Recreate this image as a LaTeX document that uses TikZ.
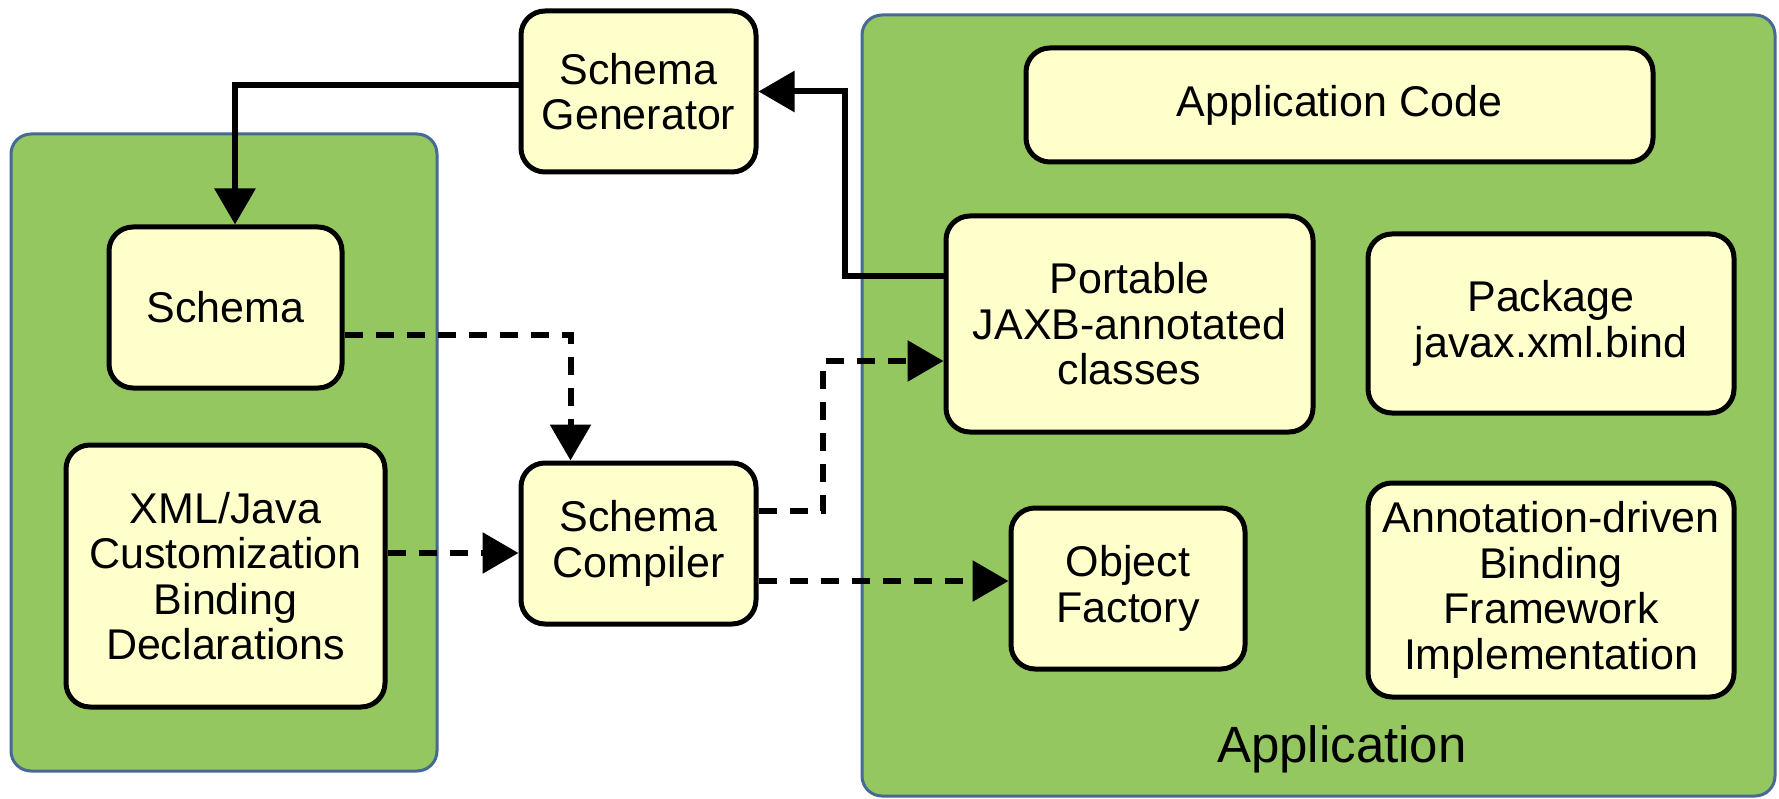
\documentclass[tikz,border=0pt]{standalone}
\usepackage{fontspec}
\setmainfont{Liberation Sans}
\usetikzlibrary{arrows.meta}
\definecolor{panelgreen}{RGB}{148,199,96}
\definecolor{panelborder}{RGB}{70,105,150}
\definecolor{boxyellow}{RGB}{255,255,204}
\tikzset{
  panel/.style={fill=panelgreen, draw=panelborder, line width=3pt, rounded corners=20pt},
  box/.style={fill=boxyellow, draw=black, line width=5pt, rounded corners=24pt, align=center,
    font=\fontsize{43pt}{45.5pt}\selectfont, inner sep=0pt},
  solidarrow/.style={line width=6pt, -{Triangle[length=36pt,width=40pt]}},
  dasharrow/.style={line width=6pt, dash pattern=on 18pt off 13pt, -{Triangle[length=36pt,width=40pt]}}
}
\begin{document}
\begin{tikzpicture}[x=1pt,y=-1pt]
\useasboundingbox (0,0) rectangle (1779,799);
% panels
\draw[panel] (11,134) rectangle (437,771);
\draw[panel] (862,15) rectangle (1775,796);
\node[font=\fontsize{51pt}{53pt}\selectfont] (applabel) at (1342,749) {Application};
% boxes
\node[box, minimum width=235pt, minimum height=161pt] (gen) at (638.5,91.5) {Schema\\Generator};
\node[box, minimum width=233pt, minimum height=161pt] (schema) at (225.5,307.5) {Schema};
\node[box, minimum width=319pt, minimum height=262pt] (xml) at (225.5,576) {XML/Java\\Customization\\Binding\\Declarations};
\node[box, minimum width=235pt, minimum height=161pt] (comp) at (638.5,543.5) {Schema\\Compiler};
\node[box, minimum width=627pt, minimum height=114pt] (appcode) at (1339.5,105) {Application Code};
\node[box, minimum width=367pt, minimum height=216pt] (port) at (1129.5,324) {Portable\\JAXB-annotated\\classes};
\node[box, minimum width=366pt, minimum height=179pt] (pkg) at (1551,323.5) {Package\\javax.xml.bind};
\node[box, minimum width=234pt, minimum height=161pt] (objf) at (1128,588.5) {Object\\Factory};
\node[box, minimum width=366pt, minimum height=214pt] (ann) at (1551,590) {Annotation-driven\\Binding\\Framework\\Implementation};
% connectors
\draw[solidarrow] ([yshift=6.5pt]gen.west) -| ([xshift=9.5pt]schema.north);
\draw[solidarrow] ([yshift=48pt]port.west) -| ([xshift=86pt]gen.east) -- (gen.east);
\draw[dasharrow] ([yshift=-27.5pt]schema.east) -| ([xshift=-68pt]comp.north);
\draw[dasharrow] ([yshift=23pt]xml.east) -- ([yshift=-9.5pt]comp.west);
\draw[dasharrow] ([yshift=32.5pt]comp.east) -| ([xshift=-121pt,yshift=-37pt]port.west) -- ([yshift=-37pt]port.west);
\draw[dasharrow] ([yshift=-37.5pt]comp.east) -- ([yshift=7.5pt]objf.west);
\end{tikzpicture}
\end{document}
